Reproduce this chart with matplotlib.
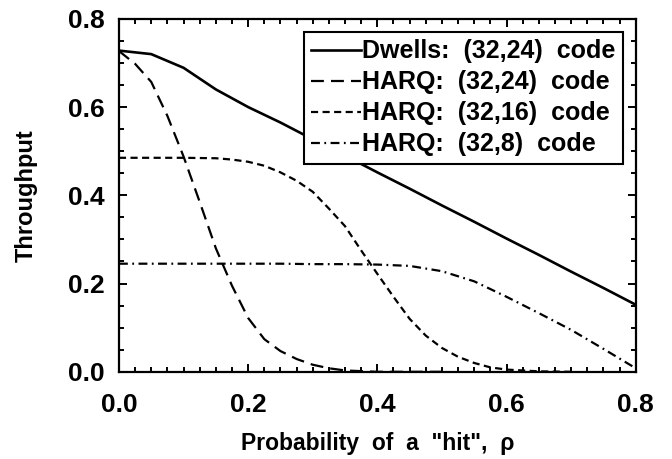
import matplotlib
matplotlib.use("Agg")
import matplotlib.pyplot as plt
from matplotlib.ticker import MultipleLocator, FormatStrFormatter

plt.rcParams['font.family'] = ['Liberation Sans', 'DejaVu Sans']
plt.rcParams['font.weight'] = 'bold'

p_dwell = [0.0, 0.05, 0.1, 0.15, 0.2, 0.25, 0.3, 0.35, 0.4, 0.45, 0.5, 0.55, 0.6, 0.65, 0.7, 0.75, 0.8]
thr_dwell = [0.728, 0.720, 0.689, 0.640, 0.600, 0.565, 0.527, 0.490, 0.452, 0.415, 0.377, 0.340, 0.302, 0.265, 0.227, 0.190, 0.152]

p_harq24 = [0.0, 0.025, 0.05, 0.075, 0.1, 0.125, 0.15, 0.175, 0.2, 0.225, 0.25, 0.275, 0.3, 0.325, 0.35, 0.4, 0.5]
thr_harq24 = [0.727, 0.698, 0.657, 0.580, 0.488, 0.385, 0.280, 0.195, 0.122, 0.074, 0.047, 0.029, 0.016, 0.008, 0.003, 0.0, 0.0]

p_harq16 = [0.0, 0.05, 0.1, 0.15, 0.175, 0.2, 0.225, 0.25, 0.275, 0.3, 0.325, 0.35, 0.375, 0.4, 0.425, 0.45, 0.475, 0.5, 0.525, 0.55, 0.575, 0.6, 0.65, 0.7]
thr_harq16 = [0.485, 0.485, 0.485, 0.484, 0.481, 0.476, 0.467, 0.452, 0.433, 0.408, 0.370, 0.330, 0.275, 0.222, 0.170, 0.120, 0.082, 0.054, 0.034, 0.020, 0.010, 0.005, 0.001, 0.0]

p_harq8 = [0.0, 0.05, 0.1, 0.15, 0.2, 0.25, 0.3, 0.35, 0.4, 0.45, 0.5, 0.55, 0.6, 0.65, 0.7, 0.75, 0.8]
thr_harq8 = [0.245, 0.245, 0.245, 0.245, 0.245, 0.245, 0.244, 0.244, 0.243, 0.240, 0.228, 0.205, 0.170, 0.133, 0.095, 0.052, 0.008]

labels = ["Dwells:  (32,24)  code", "HARQ:  (32,24)  code", "HARQ:  (32,16)  code", "HARQ:  (32,8)  code"]

fig = plt.figure(figsize=(6.72, 4.59), dpi=100)
ax = fig.add_axes([0.177, 0.19, 0.769, 0.769])

lw = 1.6
ax.plot(p_dwell, thr_dwell, color='black', lw=1.9, label=labels[0])
ax.plot(p_harq24, thr_harq24, color='black', lw=lw, dashes=(5.8, 3.2), label=labels[1])
ax.plot(p_harq16, thr_harq16, color='black', lw=lw, dashes=(3.2, 2.0), label=labels[2])
ax.plot(p_harq8, thr_harq8, color='black', lw=lw, dashes=(4.0, 2.0, 0.8, 2.0), label=labels[3])

ax.set_xlim(0, 0.8)
ax.set_ylim(0, 0.8)
ax.xaxis.set_major_locator(MultipleLocator(0.2))
ax.xaxis.set_minor_locator(MultipleLocator(0.025))
ax.yaxis.set_major_locator(MultipleLocator(0.2))
ax.yaxis.set_minor_locator(MultipleLocator(0.05))
ax.xaxis.set_major_formatter(FormatStrFormatter('%.1f'))
ax.yaxis.set_major_formatter(FormatStrFormatter('%.1f'))
ax.tick_params(which='both', direction='in', top=True, right=True, width=1.4, labelsize=19)
ax.tick_params(axis='y', which='major', length=6, pad=10)
ax.tick_params(axis='x', which='major', length=6, pad=15)
ax.tick_params(which='minor', length=3.5)
for s in ax.spines.values():
    s.set_linewidth(1.6)

ax.set_xlabel('Probability  of  a  "hit",  ρ', fontsize=16.5, fontweight='bold', labelpad=11)
ax.set_ylabel('Throughput', fontsize=17, fontweight='bold', labelpad=22)

leg = ax.legend(loc='upper right', bbox_to_anchor=(0.976, 0.963), fontsize=18,
                frameon=True, fancybox=False, framealpha=1, edgecolor='black',
                handlelength=2.0, handletextpad=0.05, labelspacing=0.28, borderpad=0.3,
                borderaxespad=0)
leg.get_frame().set_linewidth(1.5)

fig.savefig('out.png', dpi=100)
